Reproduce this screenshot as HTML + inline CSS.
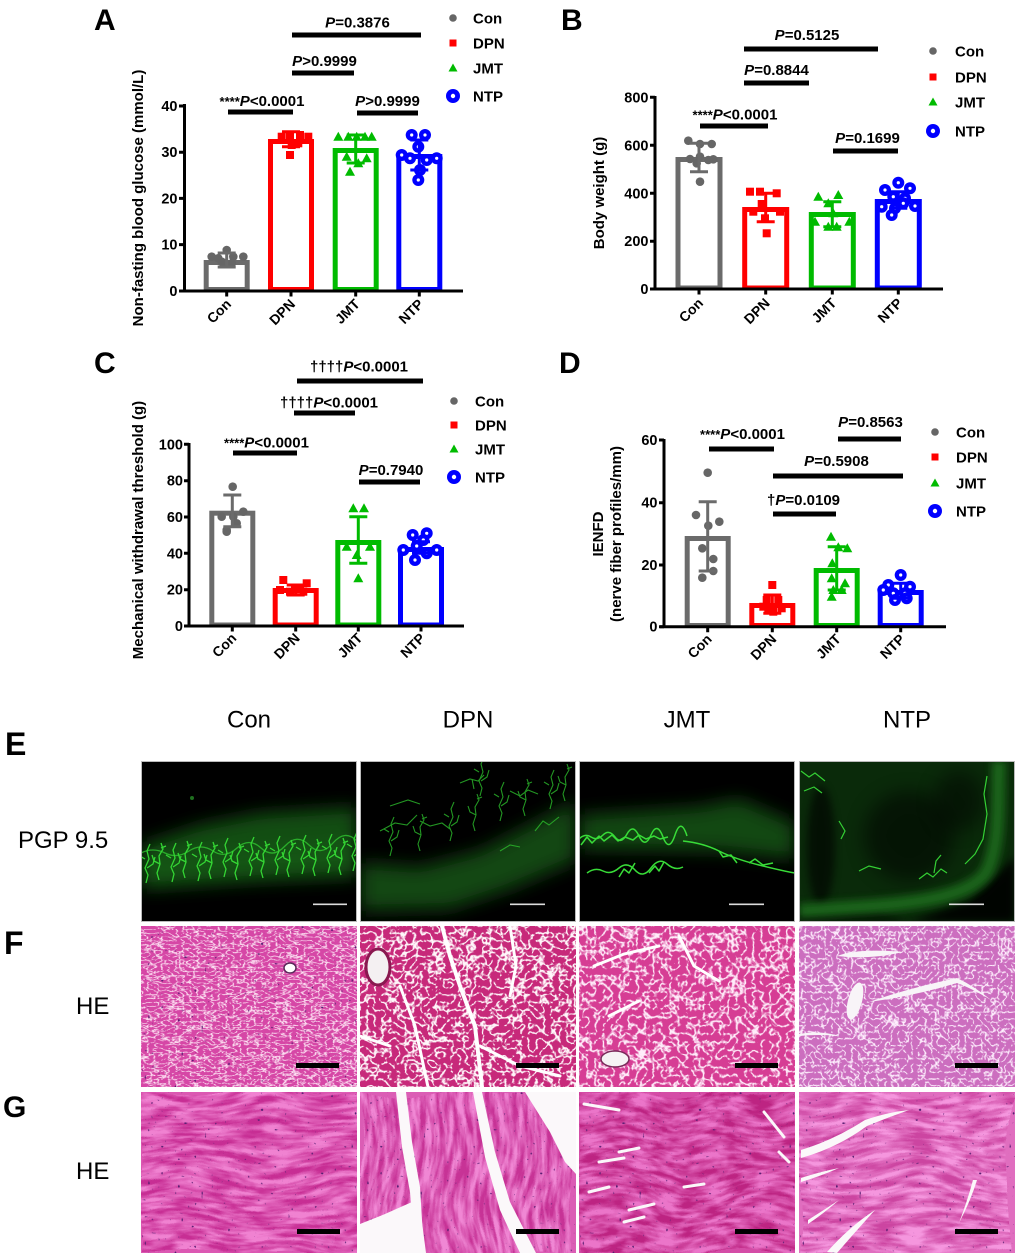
<!DOCTYPE html>
<html><head><meta charset="utf-8">
<style>
html,body{margin:0;padding:0;background:#fff;width:1020px;height:1259px;overflow:hidden;}
svg{display:block;}
text{font-family:"Liberation Sans",Arial,sans-serif;}
.t{font-size:14.5px;font-weight:bold;fill:#000;}
.s{font-size:15px;font-weight:bold;fill:#000;}
.lg{font-size:15px;font-weight:bold;fill:#000;}
.yl{font-size:15px;font-weight:bold;fill:#000;}
.xl{font-size:14px;font-weight:bold;fill:#000;}
.pl{font-size:30px;font-weight:bold;fill:#000;}
.il{font-size:24px;fill:#000;}
</style></head><body>
<svg width="1020" height="1259" viewBox="0 0 1020 1259" xmlns="http://www.w3.org/2000/svg">
<defs>
 <circle id="mc" r="4.3" fill="#666"/>
 <rect id="ms" x="-4" y="-4" width="8" height="8" fill="#f00"/>
 <polygon id="mt" points="0,-5 5,4 -5,4" fill="#00bb00"/>
 <g id="mn"><circle r="6" fill="#00f"/><circle r="1.6" fill="#fff"/></g>
 <g id="lnp"><circle r="7" fill="#00f"/><circle r="2.2" fill="#fff"/></g>

 <path id="fb1" d="M0 0 l2 -8 l-3 -7 l4 -9 l-2 -8 l3 -7 M1 -15 l6 -4 l2 -7 M-1 -24 l-5 -3"/>
 <path id="fb2" d="M0 0 l-2 -7 l3 -9 l-1 -8 l4 -7 l-2 -6 M1 -16 l-6 -3 l-2 -6 M2 -32 l5 -2"/>

 <filter id="bl9" x="-50%" y="-50%" width="200%" height="200%"><feGaussianBlur stdDeviation="9"/></filter>
 <filter id="bl4" x="-50%" y="-50%" width="200%" height="200%"><feGaussianBlur stdDeviation="4"/></filter>

 <filter id="fFc" x="0" y="0" width="1" height="1" color-interpolation-filters="sRGB">
  <feTurbulence type="turbulence" baseFrequency="0.14 0.26" numOctaves="2" seed="5"/>
  <feColorMatrix type="matrix" values="-4.5 0 0 0 1.12  -4.5 0 0 0 1.12  -4.5 0 0 0 1.12  0 0 0 0 1"/>
  <feColorMatrix type="matrix" values="0.16 0 0 0 0.84  0 0.64 0 0 0.28  0 0 0.32 0 0.65  0 0 0 0 1"/>
 </filter>
 <filter id="fFd" x="0" y="0" width="1" height="1" color-interpolation-filters="sRGB">
  <feTurbulence type="turbulence" baseFrequency="0.13 0.13" numOctaves="2" seed="11"/>
  <feColorMatrix type="matrix" values="-6 0 0 0 1.5  -6 0 0 0 1.5  -6 0 0 0 1.5  0 0 0 0 1"/>
  <feColorMatrix type="matrix" values="0.22 0 0 0 0.78  0 0.81 0 0 0.16  0 0 0.50 0 0.48  0 0 0 0 1"/>
 </filter>
 <filter id="fFj" x="0" y="0" width="1" height="1" color-interpolation-filters="sRGB">
  <feTurbulence type="turbulence" baseFrequency="0.12 0.12" numOctaves="2" seed="17"/>
  <feColorMatrix type="matrix" values="-5.5 0 0 0 1.35  -5.5 0 0 0 1.35  -5.5 0 0 0 1.35  0 0 0 0 1"/>
  <feColorMatrix type="matrix" values="0.16 0 0 0 0.84  0 0.69 0 0 0.24  0 0 0.40 0 0.58  0 0 0 0 1"/>
 </filter>
 <filter id="fFn" x="0" y="0" width="1" height="1" color-interpolation-filters="sRGB">
  <feTurbulence type="turbulence" baseFrequency="0.15 0.15" numOctaves="2" seed="23"/>
  <feColorMatrix type="matrix" values="-5 0 0 0 1.2  -5 0 0 0 1.2  -5 0 0 0 1.2  0 0 0 0 1"/>
  <feColorMatrix type="matrix" values="0.20 0 0 0 0.80  0 0.52 0 0 0.43  0 0 0.25 0 0.75  0 0 0 0 1"/>
 </filter>

 <filter id="gC" x="0" y="0" width="1" height="1" color-interpolation-filters="sRGB">
  <feTurbulence type="fractalNoise" baseFrequency="0.03 0.16" numOctaves="3" seed="3"/>
  <feColorMatrix type="matrix" values="1 0 0 0 0  1 0 0 0 0  1 0 0 0 0  0 0 0 0 1" result="n"/>
  <feTurbulence type="fractalNoise" baseFrequency="0.012" numOctaves="1" seed="8" result="w"/>
  <feDisplacementMap in="n" in2="w" scale="36" xChannelSelector="R" yChannelSelector="G"/>
  <feColorMatrix type="matrix" values="2.5 0 0 -1.25 0.5  2.5 0 0 -1.25 0.5  2.5 0 0 -1.25 0.5  0 0 0 0 1"/>
  <feColorMatrix type="matrix" values="0.16 0 0 0 0.78  0 0.33 0 0 0.18  0 0 0.24 0 0.58  0 0 0 0 1"/>
 </filter>
 <filter id="gD" x="0" y="0" width="1" height="1" color-interpolation-filters="sRGB">
  <feTurbulence type="fractalNoise" baseFrequency="0.16 0.03" numOctaves="3" seed="7"/>
  <feColorMatrix type="matrix" values="1 0 0 0 0  1 0 0 0 0  1 0 0 0 0  0 0 0 0 1" result="n"/>
  <feTurbulence type="fractalNoise" baseFrequency="0.012" numOctaves="1" seed="2" result="w"/>
  <feDisplacementMap in="n" in2="w" scale="32" xChannelSelector="R" yChannelSelector="G"/>
  <feColorMatrix type="matrix" values="2.5 0 0 -1.25 0.5  2.5 0 0 -1.25 0.5  2.5 0 0 -1.25 0.5  0 0 0 0 1"/>
  <feColorMatrix type="matrix" values="0.16 0 0 0 0.78  0 0.33 0 0 0.20  0 0 0.24 0 0.59  0 0 0 0 1"/>
 </filter>
 <filter id="gJ" x="0" y="0" width="1" height="1" color-interpolation-filters="sRGB">
  <feTurbulence type="fractalNoise" baseFrequency="0.04 0.15" numOctaves="3" seed="13"/>
  <feColorMatrix type="matrix" values="1 0 0 0 0  1 0 0 0 0  1 0 0 0 0  0 0 0 0 1" result="n"/>
  <feTurbulence type="fractalNoise" baseFrequency="0.015" numOctaves="1" seed="6" result="w"/>
  <feDisplacementMap in="n" in2="w" scale="32" xChannelSelector="R" yChannelSelector="G"/>
  <feColorMatrix type="matrix" values="2.5 0 0 -1.25 0.5  2.5 0 0 -1.25 0.5  2.5 0 0 -1.25 0.5  0 0 0 0 1"/>
  <feColorMatrix type="matrix" values="0.18 0 0 0 0.74  0 0.32 0 0 0.14  0 0 0.28 0 0.51  0 0 0 0 1"/>
 </filter>
 <filter id="gN" x="0" y="0" width="1" height="1" color-interpolation-filters="sRGB">
  <feTurbulence type="fractalNoise" baseFrequency="0.03 0.16" numOctaves="3" seed="19"/>
  <feColorMatrix type="matrix" values="1 0 0 0 0  1 0 0 0 0  1 0 0 0 0  0 0 0 0 1" result="n"/>
  <feTurbulence type="fractalNoise" baseFrequency="0.012" numOctaves="1" seed="12" result="w"/>
  <feDisplacementMap in="n" in2="w" scale="36" xChannelSelector="R" yChannelSelector="G"/>
  <feColorMatrix type="matrix" values="2.5 0 0 -1.25 0.5  2.5 0 0 -1.25 0.5  2.5 0 0 -1.25 0.5  0 0 0 0 1"/>
  <feColorMatrix type="matrix" values="0.16 0 0 0 0.80  0 0.32 0 0 0.27  0 0 0.24 0 0.63  0 0 0 0 1"/>
 </filter>
 <filter id="nuc" x="0" y="0" width="1" height="1" color-interpolation-filters="sRGB">
  <feTurbulence type="fractalNoise" baseFrequency="0.3" numOctaves="1" seed="9"/>
  <feColorMatrix type="matrix" values="0 0 0 0 0.35  0 0 0 0 0.12  0 0 0 0 0.45  12 0 0 0 -8.4"/>
 </filter>
</defs>

<rect width="1020" height="1259" fill="#fff"/>

<!-- ================= PANEL A ================= -->
<text class="pl" x="94" y="30">A</text>
<g fill="#fff" stroke-width="5">
 <rect x="206.2" y="262.5" width="41" height="27" stroke="#6b6b6b"/>
 <rect x="270.5" y="141.5" width="41" height="148" stroke="#f00"/>
 <rect x="335.2" y="150.5" width="41" height="139" stroke="#00bb00"/>
 <rect x="398.8" y="156.5" width="41" height="133" stroke="#00f"/>
</g>
<g>
 <use href="#mc" x="211.7" y="256.7"/><use href="#mc" x="218.3" y="258.3"/><use href="#mc" x="226.7" y="250"/><use href="#mc" x="233.3" y="256.7"/><use href="#mc" x="243.3" y="256.7"/><use href="#mc" x="225" y="263.3"/><use href="#mc" x="231.7" y="263.3"/><use href="#mc" x="221.7" y="261.7"/>
 <use href="#ms" x="281.7" y="136.7"/><use href="#ms" x="290" y="135"/><use href="#ms" x="300" y="135"/><use href="#ms" x="308.3" y="136.7"/><use href="#ms" x="291.7" y="145"/><use href="#ms" x="298.3" y="143.3"/><use href="#ms" x="290" y="155"/>
 <use href="#mt" x="338.3" y="136.7"/><use href="#mt" x="348.3" y="136.7"/><use href="#mt" x="356.7" y="136.7"/><use href="#mt" x="365" y="136.7"/><use href="#mt" x="371.7" y="136.7"/><use href="#mt" x="346.7" y="156.7"/><use href="#mt" x="358.3" y="163.3"/><use href="#mt" x="350" y="171.7"/><use href="#mt" x="366.7" y="158.3"/>
 <use href="#mn" x="411.7" y="135"/><use href="#mn" x="425" y="135"/><use href="#mn" x="418.3" y="146.7"/><use href="#mn" x="401.7" y="155"/><use href="#mn" x="410" y="158.3"/><use href="#mn" x="426.7" y="160"/><use href="#mn" x="436.7" y="158.3"/><use href="#mn" x="420" y="170"/><use href="#mn" x="418.3" y="180"/>
</g>
<g stroke-width="3" fill="none">
 <path d="M226.7 253V267M217.7 253H235.7M217.7 267H235.7" stroke="#6b6b6b"/>
 <path d="M291 131.7V146.7M282 131.7H300M282 146.7H300" stroke="#f00"/>
 <path d="M355.7 135V163M346.7 135H364.7M346.7 163H364.7" stroke="#00bb00"/>
 <path d="M419.3 140V170M410.3 140H428.3M410.3 170H428.3" stroke="#00f"/>
</g>
<g stroke="#000" stroke-width="3">
 <line x1="184.5" y1="104" x2="184.5" y2="292.5"/>
 <line x1="180" y1="291" x2="463" y2="291"/>
 <path d="M179 106H184M179 152.2H184M179 198.4H184M179 244.6H184M179 291H184"/>
 <path d="M226.7 291V296.5M291 291V296.5M355.7 291V296.5M419.3 291V296.5"/>
</g>
<g class="t" text-anchor="end">
 <text x="177.5" y="111">40</text><text x="177.5" y="157.2">30</text><text x="177.5" y="203.4">20</text><text x="177.5" y="249.6">10</text><text x="177.5" y="296">0</text>
</g>
<g class="xl" text-anchor="end">
 <text transform="translate(232,305) rotate(-45)">Con</text>
 <text transform="translate(296,305) rotate(-45)">DPN</text>
 <text transform="translate(360.7,305) rotate(-45)">JMT</text>
 <text transform="translate(424.3,305) rotate(-45)">NTP</text>
</g>
<text class="yl" text-anchor="middle" transform="translate(143,198) rotate(-90)">Non-fasting blood glucose (mmol/L)</text>
<g stroke="#000" stroke-width="5">
 <line x1="228" y1="112" x2="293" y2="112"/>
 <line x1="292" y1="73" x2="354" y2="73"/>
 <line x1="292" y1="35" x2="421" y2="35"/>
 <line x1="357" y1="113" x2="418" y2="113"/>
</g>
<g class="s" text-anchor="middle">
 <text x="262" y="106"><tspan font-size="13">****</tspan><tspan font-style="italic">P</tspan>&lt;0.0001</text>
 <text x="324.5" y="66"><tspan font-style="italic">P</tspan>&gt;0.9999</text>
 <text x="357.5" y="27.5"><tspan font-style="italic">P</tspan>=0.3876</text>
 <text x="387.5" y="106"><tspan font-style="italic">P</tspan>&gt;0.9999</text>
</g>
<g>
 <circle cx="453" cy="18" r="3.8" fill="#666"/>
 <rect x="449.5" y="39.5" width="7" height="7" fill="#f00"/>
 <polygon points="453,63.5 457.5,71.5 448.5,71.5" fill="#00bb00"/>
 <use href="#lnp" x="453" y="96"/>
</g>
<g class="lg">
 <text x="473" y="23.5">Con</text><text x="473" y="48.5">DPN</text><text x="473" y="73.5">JMT</text><text x="473" y="101.5">NTP</text>
</g>

<!-- ================= PANEL B ================= -->
<text class="pl" x="561" y="30">B</text>
<g fill="#fff" stroke-width="5">
 <rect x="678" y="159.5" width="42" height="128.5" stroke="#6b6b6b"/>
 <rect x="744.7" y="209.5" width="42" height="78.5" stroke="#f00"/>
 <rect x="811.3" y="214.5" width="42" height="73.5" stroke="#00bb00"/>
 <rect x="877.3" y="201.5" width="42" height="86.5" stroke="#00f"/>
</g>
<g>
 <use href="#mc" x="688.3" y="140.7"/><use href="#mc" x="700" y="144"/><use href="#mc" x="711.7" y="144"/><use href="#mc" x="690" y="159"/><use href="#mc" x="700" y="156.7"/><use href="#mc" x="708.3" y="160"/><use href="#mc" x="696.7" y="163.3"/><use href="#mc" x="700" y="181.7"/><use href="#mc" x="713.3" y="159.3"/>
 <use href="#ms" x="750" y="191.7"/><use href="#ms" x="760" y="191.7"/><use href="#ms" x="776.7" y="193.3"/><use href="#ms" x="753.3" y="211.7"/><use href="#ms" x="780" y="211.7"/><use href="#ms" x="765" y="218.3"/><use href="#ms" x="766.7" y="233.3"/><use href="#ms" x="761.7" y="204"/>
 <use href="#mt" x="818.3" y="196.7"/><use href="#mt" x="838.3" y="195"/><use href="#mt" x="828.3" y="203.3"/><use href="#mt" x="833.3" y="213.3"/><use href="#mt" x="815" y="221.7"/><use href="#mt" x="828.3" y="226.7"/><use href="#mt" x="836.7" y="226.7"/><use href="#mt" x="849.3" y="221.7"/>
 <use href="#mn" x="885" y="190"/><use href="#mn" x="898.3" y="182.7"/><use href="#mn" x="910" y="188.3"/><use href="#mn" x="893.3" y="196.7"/><use href="#mn" x="905" y="198.3"/><use href="#mn" x="881.7" y="206.7"/><use href="#mn" x="895" y="208.3"/><use href="#mn" x="915" y="206"/><use href="#mn" x="891.7" y="215"/><use href="#mn" x="903.3" y="203.3"/>
</g>
<g stroke-width="3" fill="none">
 <path d="M699 143.3V171.7M690 143.3H708M690 171.7H708" stroke="#6b6b6b"/>
 <path d="M765.7 193.3V221.7M756.7 193.3H774.7M756.7 221.7H774.7" stroke="#f00"/>
 <path d="M832.3 201.7V226.7M823.3 201.7H841.3M823.3 226.7H841.3" stroke="#00bb00"/>
 <path d="M898.3 191.7V208.3M889.3 191.7H907.3M889.3 208.3H907.3" stroke="#00f"/>
</g>
<g stroke="#000" stroke-width="3">
 <line x1="655" y1="96" x2="655" y2="290.5"/>
 <line x1="650" y1="289" x2="943" y2="289"/>
 <path d="M650 97.3H655M650 145.3H655M650 193.3H655M650 241.2H655M650 289H655"/>
 <path d="M699 289V294.5M765.7 289V294.5M832.3 289V294.5M898.3 289V294.5"/>
</g>
<g class="t" text-anchor="end">
 <text x="648.5" y="102.3">800</text><text x="648.5" y="150.3">600</text><text x="648.5" y="198.3">400</text><text x="648.5" y="246.2">200</text><text x="648.5" y="294">0</text>
</g>
<g class="xl" text-anchor="end">
 <text transform="translate(704,304) rotate(-45)">Con</text>
 <text transform="translate(770.7,304) rotate(-45)">DPN</text>
 <text transform="translate(837.3,304) rotate(-45)">JMT</text>
 <text transform="translate(903.3,304) rotate(-45)">NTP</text>
</g>
<text class="yl" text-anchor="middle" transform="translate(604,193) rotate(-90)">Body weight (g)</text>
<g stroke="#000" stroke-width="5">
 <line x1="700" y1="126" x2="768" y2="126"/>
 <line x1="744" y1="83" x2="809" y2="83"/>
 <line x1="744" y1="49" x2="878" y2="49"/>
 <line x1="833" y1="151" x2="898" y2="151"/>
</g>
<g class="s" text-anchor="middle">
 <text x="735" y="119.5"><tspan font-size="13">****</tspan><tspan font-style="italic">P</tspan>&lt;0.0001</text>
 <text x="776.5" y="75"><tspan font-style="italic">P</tspan>=0.8844</text>
 <text x="807" y="40"><tspan font-style="italic">P</tspan>=0.5125</text>
 <text x="867.5" y="143"><tspan font-style="italic">P</tspan>=0.1699</text>
</g>
<g>
 <circle cx="933" cy="51" r="3.8" fill="#666"/>
 <rect x="929.5" y="73.5" width="7" height="7" fill="#f00"/>
 <polygon points="933,97.5 937.5,105.5 928.5,105.5" fill="#00bb00"/>
 <use href="#lnp" x="933" y="131"/>
</g>
<g class="lg">
 <text x="955" y="56.5">Con</text><text x="955" y="82.5">DPN</text><text x="955" y="107.5">JMT</text><text x="955" y="136.5">NTP</text>
</g>

<!-- ================= PANEL C ================= -->
<text class="pl" x="94" y="373">C</text>
<g fill="#fff" stroke-width="5">
 <rect x="211.8" y="513.2" width="41" height="111.8" stroke="#6b6b6b"/>
 <rect x="275.2" y="590.5" width="41" height="34.5" stroke="#f00"/>
 <rect x="337.8" y="542.5" width="41" height="82.5" stroke="#00bb00"/>
 <rect x="400.5" y="549.5" width="41" height="75.5" stroke="#00f"/>
</g>
<g>
 <use href="#mc" x="232.7" y="486.7"/><use href="#mc" x="221.7" y="516.7"/><use href="#mc" x="233.3" y="516.7"/><use href="#mc" x="243.3" y="511.7"/><use href="#mc" x="226.7" y="530"/><use href="#mc" x="236.7" y="523.3"/><use href="#mc" x="226.7" y="531.7"/>
 <use href="#ms" x="283.3" y="580"/><use href="#ms" x="306.7" y="583.3"/><use href="#ms" x="290" y="591.7"/><use href="#ms" x="295" y="589.3"/><use href="#ms" x="300" y="588.3"/><use href="#ms" x="280" y="590"/><use href="#ms" x="303.3" y="591.7"/>
 <use href="#mt" x="353.3" y="508.3"/><use href="#mt" x="364" y="508.3"/><use href="#mt" x="346.7" y="546.7"/><use href="#mt" x="370" y="546.7"/><use href="#mt" x="356.7" y="555"/><use href="#mt" x="358.3" y="578.3"/>
 <use href="#mn" x="412.7" y="535"/><use href="#mn" x="426.7" y="533.3"/><use href="#mn" x="423.3" y="540"/><use href="#mn" x="403.3" y="550"/><use href="#mn" x="416.7" y="546"/><use href="#mn" x="436.7" y="550"/><use href="#mn" x="415" y="560"/><use href="#mn" x="426.7" y="553.3"/>
</g>
<g stroke-width="3" fill="none">
 <path d="M232.3 495V526.7M223.3 495H241.3M223.3 526.7H241.3" stroke="#6b6b6b"/>
 <path d="M295.7 585V595M286.7 585H304.7M286.7 595H304.7" stroke="#f00"/>
 <path d="M358.3 516.7V563.3M349.3 516.7H367.3M349.3 563.3H367.3" stroke="#00bb00"/>
 <path d="M421 541.7V553.3M412 541.7H430M412 553.3H430" stroke="#00f"/>
</g>
<g stroke="#000" stroke-width="3">
 <line x1="189" y1="443" x2="189" y2="627.5"/>
 <line x1="185" y1="626" x2="464" y2="626"/>
 <path d="M184 444.3H189M184 480.7H189M184 517H189M184 553.3H189M184 589.7H189M184 626H189"/>
 <path d="M232.3 626V631.5M295.7 626V631.5M358.3 626V631.5M421 626V631.5"/>
</g>
<g class="t" text-anchor="end">
 <text x="183" y="449.3">100</text><text x="183" y="485.7">80</text><text x="183" y="522">60</text><text x="183" y="558.3">40</text><text x="183" y="594.7">20</text><text x="183" y="631">0</text>
</g>
<g class="xl" text-anchor="end">
 <text transform="translate(237.3,639) rotate(-45)">Con</text>
 <text transform="translate(300.7,639) rotate(-45)">DPN</text>
 <text transform="translate(363.3,639) rotate(-45)">JMT</text>
 <text transform="translate(426,639) rotate(-45)">NTP</text>
</g>
<text class="yl" text-anchor="middle" transform="translate(143,530) rotate(-90)">Mechanical withdrawal threshold (g)</text>
<g stroke="#000" stroke-width="5">
 <line x1="233" y1="453" x2="297" y2="453"/>
 <line x1="294" y1="413" x2="355" y2="413"/>
 <line x1="297" y1="381" x2="423" y2="381"/>
 <line x1="359" y1="482" x2="420" y2="482"/>
</g>
<g class="s" text-anchor="middle">
 <text x="266.5" y="447.5"><tspan font-size="13">****</tspan><tspan font-style="italic">P</tspan>&lt;0.0001</text>
 <text x="329" y="407.5">††††<tspan font-style="italic">P</tspan>&lt;0.0001</text>
 <text x="359" y="371.5">††††<tspan font-style="italic">P</tspan>&lt;0.0001</text>
 <text x="391" y="475"><tspan font-style="italic">P</tspan>=0.7940</text>
</g>
<g>
 <circle cx="454" cy="401" r="3.8" fill="#666"/>
 <rect x="450.5" y="421.5" width="7" height="7" fill="#f00"/>
 <polygon points="454,444.5 458.5,452.5 449.5,452.5" fill="#00bb00"/>
 <use href="#lnp" x="454" y="477"/>
</g>
<g class="lg">
 <text x="475" y="406.5">Con</text><text x="475" y="430.5">DPN</text><text x="475" y="454.5">JMT</text><text x="475" y="482.5">NTP</text>
</g>

<!-- ================= PANEL D ================= -->
<text class="pl" x="559" y="373">D</text>
<g fill="#fff" stroke-width="5">
 <rect x="687.2" y="538.5" width="41" height="87" stroke="#6b6b6b"/>
 <rect x="751.8" y="605.5" width="41" height="20" stroke="#f00"/>
 <rect x="816.2" y="570.5" width="41" height="55" stroke="#00bb00"/>
 <rect x="880.2" y="592.5" width="41" height="33" stroke="#00f"/>
</g>
<g>
 <use href="#mc" x="707.7" y="472.7"/><use href="#mc" x="696" y="515"/><use href="#mc" x="708.3" y="525.7"/><use href="#mc" x="719.3" y="521.7"/><use href="#mc" x="702.3" y="548.3"/><use href="#mc" x="713.3" y="559"/><use href="#mc" x="702.3" y="577.7"/><use href="#mc" x="713.3" y="571"/>
 <use href="#ms" x="772.3" y="585"/><use href="#ms" x="766.7" y="600"/><use href="#ms" x="778.3" y="600"/><use href="#ms" x="763.3" y="606.7"/><use href="#ms" x="773.3" y="611.7"/><use href="#ms" x="781.7" y="608.3"/><use href="#ms" x="768.3" y="610"/>
 <use href="#mt" x="831" y="536.7"/><use href="#mt" x="838.3" y="547.3"/><use href="#mt" x="847.3" y="548.3"/><use href="#mt" x="832.3" y="563.3"/><use href="#mt" x="831.7" y="578.3"/><use href="#mt" x="845" y="583.3"/><use href="#mt" x="833.3" y="590"/><use href="#mt" x="841.7" y="590"/><use href="#mt" x="831.7" y="596.7"/>
 <use href="#mn" x="900.7" y="575"/><use href="#mn" x="888.3" y="585"/><use href="#mn" x="910" y="586.7"/><use href="#mn" x="893.3" y="593.3"/><use href="#mn" x="905" y="593.3"/><use href="#mn" x="895" y="600"/><use href="#mn" x="906.7" y="598.3"/><use href="#mn" x="883.3" y="590"/>
</g>
<g stroke-width="3" fill="none">
 <path d="M707.7 501.7V571M698.7 501.7H716.7M698.7 571H716.7" stroke="#6b6b6b"/>
 <path d="M772.3 595V613.3M763.3 595H781.3M763.3 613.3H781.3" stroke="#f00"/>
 <path d="M836.7 546.7V590M827.7 546.7H845.7M827.7 590H845.7" stroke="#00bb00"/>
 <path d="M900.7 583.3V598.3M891.7 583.3H909.7M891.7 598.3H909.7" stroke="#00f"/>
</g>
<g stroke="#000" stroke-width="3">
 <line x1="664" y1="439" x2="664" y2="628"/>
 <line x1="660" y1="626.7" x2="946" y2="626.7"/>
 <path d="M659 440H664M659 502.7H664M659 565H664M659 626.7H664"/>
 <path d="M707.7 626.7V632.2M772.3 626.7V632.2M836.7 626.7V632.2M900.7 626.7V632.2"/>
</g>
<g class="t" text-anchor="end">
 <text x="657.5" y="445">60</text><text x="657.5" y="507.7">40</text><text x="657.5" y="570">20</text><text x="657.5" y="631.7">0</text>
</g>
<g class="xl" text-anchor="end">
 <text transform="translate(712.7,640) rotate(-45)">Con</text>
 <text transform="translate(777.3,640) rotate(-45)">DPN</text>
 <text transform="translate(841.7,640) rotate(-45)">JMT</text>
 <text transform="translate(905.7,640) rotate(-45)">NTP</text>
</g>
<text class="yl" text-anchor="middle" transform="translate(603,534) rotate(-90)">IENFD</text>
<text class="yl" text-anchor="middle" transform="translate(621,534) rotate(-90)">(nerve fiber profiles/mm)</text>
<g stroke="#000" stroke-width="5">
 <line x1="709" y1="449" x2="774" y2="449"/>
 <line x1="838" y1="439" x2="901" y2="439"/>
 <line x1="773" y1="476" x2="903" y2="476"/>
 <line x1="773" y1="514" x2="836" y2="514"/>
</g>
<g class="s" text-anchor="middle">
 <text x="742.5" y="439"><tspan font-size="13">****</tspan><tspan font-style="italic">P</tspan>&lt;0.0001</text>
 <text x="870.5" y="427"><tspan font-style="italic">P</tspan>=0.8563</text>
 <text x="836.5" y="466"><tspan font-style="italic">P</tspan>=0.5908</text>
 <text x="803.5" y="505">†<tspan font-style="italic">P</tspan>=0.0109</text>
</g>
<g>
 <circle cx="935" cy="432" r="3.8" fill="#666"/>
 <rect x="931.5" y="453.5" width="7" height="7" fill="#f00"/>
 <polygon points="935,478.5 939.5,486.5 930.5,486.5" fill="#00bb00"/>
 <use href="#lnp" x="935" y="511"/>
</g>
<g class="lg">
 <text x="956" y="437.5">Con</text><text x="956" y="462.5">DPN</text><text x="956" y="488.5">JMT</text><text x="956" y="516.5">NTP</text>
</g>

<!-- ================= IMAGE LABELS ================= -->
<g class="il" text-anchor="middle">
 <text x="249" y="727.5">Con</text>
 <text x="468" y="727.5">DPN</text>
 <text x="687" y="727.5">JMT</text>
 <text x="907" y="727.5">NTP</text>
</g>
<text x="5" y="755" font-size="32" font-weight="bold">E</text>
<text x="4" y="954" font-size="32" font-weight="bold">F</text>
<text x="3" y="1117" font-size="30" font-weight="bold">G</text>
<text class="il" x="18" y="848">PGP 9.5</text>
<text class="il" x="76" y="1014">HE</text>
<text class="il" x="76" y="1179">HE</text>

<!-- ================= ROW E ================= -->
<svg x="141" y="761" width="216" height="161" overflow="hidden">
 <rect width="216" height="161" fill="#000"/>
 <polygon points="0,84 60,64 120,52 216,46 216,116 120,120 0,128" fill="#145614" opacity="0.9" filter="url(#bl9)"/>
 <polygon points="0,98 216,78 216,108 0,118" fill="#1a7a1a" opacity="0.2" filter="url(#bl9)"/>
 <g stroke="#34d634" stroke-width="1.3" fill="none" stroke-linejoin="round">
  <use href="#fb1" x="5" y="122"/><use href="#fb2" x="18" y="119"/><use href="#fb1" x="31" y="121"/><use href="#fb2" x="44" y="117"/>
  <use href="#fb1" x="57" y="120"/><use href="#fb2" x="70" y="118"/><use href="#fb1" x="83" y="116"/><use href="#fb2" x="96" y="119"/>
  <use href="#fb1" x="109" y="115"/><use href="#fb2" x="122" y="117"/><use href="#fb1" x="135" y="114"/><use href="#fb2" x="148" y="116"/>
  <use href="#fb1" x="161" y="113"/><use href="#fb2" x="174" y="115"/><use href="#fb1" x="187" y="112"/><use href="#fb2" x="200" y="114"/>
  <use href="#fb1" x="212" y="110"/>
  <path d="M0 92 q12 -6 24 0 t24 -2 t24 0 t24 -3 t24 0 t24 -2 t24 -1 t24 -2 t24 -2" opacity="0.7"/>
 </g>
 <circle cx="51" cy="37" r="2" fill="#1f6f1f"/>
 <line x1="172" y1="143.3" x2="206" y2="143.3" stroke="#ddd" stroke-width="1.6"/>
 <rect x="0.5" y="0.5" width="215" height="160" fill="none" stroke="#bbb" stroke-width="1"/>
</svg>

<svg x="360" y="761" width="216" height="161" overflow="hidden">
 <rect width="216" height="161" fill="#000"/>
 <polygon points="0,102 60,106 120,90 216,40 216,100 150,128 90,148 0,150" fill="#125012" opacity="0.9" filter="url(#bl9)"/>
 <g stroke="#2cbc2c" stroke-width="1.1" fill="none" opacity="0.8">
  <use href="#fb1" x="30" y="95"/><use href="#fb2" x="60" y="90"/><use href="#fb1" x="90" y="80"/>
  <use href="#fb2" x="115" y="70"/><use href="#fb1" x="140" y="60"/><use href="#fb2" x="165" y="55"/>
  <use href="#fb1" x="190" y="48"/><use href="#fb2" x="205" y="40"/><use href="#fb1" x="120" y="35"/>
  <path d="M100 22 l10 -4 l8 2 l6 -6 M112 18 l2 10"/>
  <path d="M20 70 l15 -8 l12 2 l10 -10 M30 45 l18 -6 l12 4"/>
  <path d="M60 60 l10 5 l12 -3 l8 6 M150 30 l10 5 l8 -6 l10 4"/>
  <path d="M175 70 l8 -10 l6 4 l10 -8 M140 90 l10 -6 l10 2"/>
 </g>
 <line x1="150" y1="143.3" x2="185" y2="143.3" stroke="#ddd" stroke-width="1.6"/>
 <rect x="0.5" y="0.5" width="215" height="160" fill="none" stroke="#bbb" stroke-width="1"/>
</svg>

<svg x="579" y="761" width="216" height="161" overflow="hidden">
 <rect width="216" height="161" fill="#000"/>
 <polygon points="0,54 120,46 160,38 216,62 216,98 140,90 0,88" fill="#135513" opacity="0.85" filter="url(#bl9)"/>
 <g stroke="#38dc38" stroke-width="1.5" fill="none" stroke-linejoin="round">
  <path d="M0 78 q6 -6 12 -2 t12 -2 t12 2 t12 -3 t12 2 t12 -1 t12 2 t12 -2 t12 1"/>
  <path d="M2 84 l6 -8 l5 6 l7 -7 l5 5 l8 -6 l6 6 l7 -4 l8 3 l6 -5 l7 4 l8 -3 l6 3 l8 -2"/>
  <path d="M104 80 q20 2 36 10 t40 14 t36 8"/>
  <path d="M140 90 l4 6 l8 -2 l6 8 M170 102 l6 -4 l8 6 l10 -2"/>
  <path d="M8 112 q8 -6 16 -2 t16 -3 t16 2 t16 -2 t16 -4 t16 3"/>
  <path d="M40 116 l5 -8 l5 4 l6 -10 M70 112 l6 -7 l4 5 l5 -9"/>
 </g>
 <line x1="150" y1="143.3" x2="185" y2="143.3" stroke="#ddd" stroke-width="1.6"/>
 <rect x="0.5" y="0.5" width="215" height="160" fill="none" stroke="#bbb" stroke-width="1"/>
</svg>

<svg x="799" y="761" width="216" height="161" overflow="hidden">
 <rect width="216" height="161" fill="#0a2a0a"/>
 <ellipse cx="22" cy="85" rx="14" ry="60" fill="#000" opacity="0.6" filter="url(#bl4)"/>
 <ellipse cx="110" cy="75" rx="45" ry="45" fill="#000" opacity="0.5" filter="url(#bl9)"/>
 <ellipse cx="160" cy="40" rx="25" ry="30" fill="#000" opacity="0.45" filter="url(#bl9)"/>
 <polygon points="216,95 216,161 110,161 170,140 200,112" fill="#000" opacity="0.9" filter="url(#bl4)"/>
 <polygon points="0,150 80,150 110,161 0,161" fill="#000" opacity="0.5" filter="url(#bl4)"/>
 <path d="M200 0 C198 40 202 80 188 110 C175 132 130 142 60 146 L0 150" stroke="#1b6a1b" stroke-width="14" fill="none" opacity="0.9" filter="url(#bl4)"/>
 <g stroke="#34d034" stroke-width="1.2" fill="none">
  <path d="M188 15 l-3 18 l3 20 l-4 25 l-8 15 l-10 10"/>
  <path d="M120 118 l8 -6 l6 4 l8 -8 l6 4 M135 112 l2 -12 l5 -6"/>
  <path d="M2 10 l8 6 l6 -4 l10 8 M5 30 l10 -4 l8 6"/>
  <path d="M60 110 l10 -5 l12 3 M40 60 l6 10 l-4 8"/>
 </g>
 <line x1="150" y1="143.3" x2="185" y2="143.3" stroke="#ddd" stroke-width="1.6"/>
 <rect x="0.5" y="0.5" width="215" height="160" fill="none" stroke="#bbb" stroke-width="1"/>
</svg>

<!-- ================= ROW F ================= -->
<svg x="141" y="926" width="216" height="161" overflow="hidden">
 <rect width="216" height="161" filter="url(#fFc)"/>
 <rect width="216" height="161" filter="url(#nuc)"/>
 <ellipse cx="149" cy="42" rx="6" ry="5" fill="#fff" stroke="#5a2a5a" stroke-width="1.5"/>
 <rect x="155" y="137" width="43" height="5" fill="#000"/>
</svg>

<svg x="360" y="926" width="216" height="161" overflow="hidden">
 <rect width="216" height="161" filter="url(#fFd)"/>
 <g stroke="#fff" fill="none" stroke-linecap="round">
  <path d="M82 0 L90 30 L100 60 L115 100 L122 161" stroke-width="4"/>
  <path d="M40 60 L55 100 L68 161" stroke-width="3"/>
  <path d="M150 0 L156 40 L150 70" stroke-width="3"/>
  <path d="M120 120 L160 140 L200 150" stroke-width="3"/>
  <path d="M0 110 L30 120" stroke-width="3"/>
 </g>
 <ellipse cx="18" cy="41" rx="12" ry="18" fill="#f4f0f2" stroke="#8a1850" stroke-width="3"/>
 <rect x="156" y="137" width="43" height="5" fill="#000"/>
</svg>

<svg x="579" y="926" width="216" height="161" overflow="hidden">
 <rect width="216" height="161" filter="url(#fFj)"/>
 <g stroke="#fff" fill="none" stroke-linecap="round" stroke-width="3">
  <path d="M15 40 L45 28 L80 20"/>
  <path d="M100 10 L115 40 L140 55"/>
  <path d="M30 90 L60 75"/>
 </g>
 <ellipse cx="36" cy="133" rx="14" ry="8" fill="#f6f2f4" stroke="#7a2a5a" stroke-width="1.5"/>
 <rect x="156" y="137" width="43" height="5" fill="#000"/>
</svg>

<svg x="799" y="926" width="216" height="161" overflow="hidden">
 <rect width="216" height="161" filter="url(#fFn)"/>
 <g fill="#f8f4f8">
  <path d="M38 30 Q60 22 104 26 Q70 34 38 30 Z"/>
  <ellipse cx="56" cy="75" rx="7" ry="19" transform="rotate(15 56 75)"/>
  <path d="M70 76 Q110 62 158 52 Q175 60 192 74 Q172 62 158 57 Q115 70 70 76 Z"/>
  <path d="M0 108 Q20 104 40 110 Q20 108 0 110 Z"/>
 </g>
 <rect x="156" y="137" width="43" height="5" fill="#000"/>
</svg>

<!-- ================= ROW G ================= -->
<svg x="141" y="1092" width="216" height="161" overflow="hidden">
 <rect width="216" height="161" filter="url(#gC)"/>
 <rect width="216" height="161" filter="url(#nuc)"/>
 <rect x="156" y="137" width="43" height="5" fill="#000"/>
</svg>

<svg x="360" y="1092" width="216" height="161" overflow="hidden">
 <rect width="216" height="161" filter="url(#gD)"/>
 <rect width="216" height="161" filter="url(#nuc)"/>
 <g fill="#fbf8fa">
  <path d="M36 0 L46 0 L52 50 L60 95 L64 161 L55 161 L50 100 L42 55 Z"/>
  <path d="M0 132 L25 122 L52 110 L62 130 L66 161 L0 161 Z"/>
  <path d="M113 0 L122 0 L135 60 L150 110 L176 161 L160 161 L140 118 L125 65 Z"/>
  <path d="M165 0 L216 0 L216 82 L205 70 L190 40 Z"/>
 </g>
 <rect x="156" y="137" width="43" height="5" fill="#000"/>
</svg>

<svg x="579" y="1092" width="216" height="161" overflow="hidden">
 <rect width="216" height="161" filter="url(#gJ)"/>
 <rect width="216" height="161" filter="url(#nuc)"/>
 <g stroke="#fbf8fa" fill="none" stroke-linecap="round" stroke-width="3">
  <path d="M5 12 L40 18"/><path d="M40 60 L60 56"/><path d="M20 70 L45 66"/><path d="M10 100 L30 95"/>
  <path d="M50 118 L75 112"/><path d="M105 95 L125 92"/><path d="M185 20 L205 45"/><path d="M200 60 L210 70"/>
  <path d="M45 130 L65 125"/>
 </g>
 <rect x="156" y="137" width="43" height="5" fill="#000"/>
</svg>

<svg x="799" y="1092" width="216" height="161" overflow="hidden">
 <rect width="216" height="161" filter="url(#gN)"/>
 <rect width="216" height="161" filter="url(#nuc)"/>
 <g fill="#fbf8fa">
  <path d="M2 58 Q35 48 66 28 Q90 20 110 18 Q88 26 68 34 Q38 56 2 66 Z"/>
  <path d="M2 86 Q20 80 40 76 Q22 84 2 90 Z"/>
  <path d="M9 128 Q25 118 40 108 Q24 122 9 132 Z"/>
  <path d="M28 160 Q50 135 76 118 Q58 138 38 161 Z"/>
  <path d="M178 88 Q172 108 160 131 Q168 110 174 88 Z"/>
 </g>
 <rect x="156" y="137" width="43" height="5" fill="#000"/>
</svg>

</svg>
</body></html>
